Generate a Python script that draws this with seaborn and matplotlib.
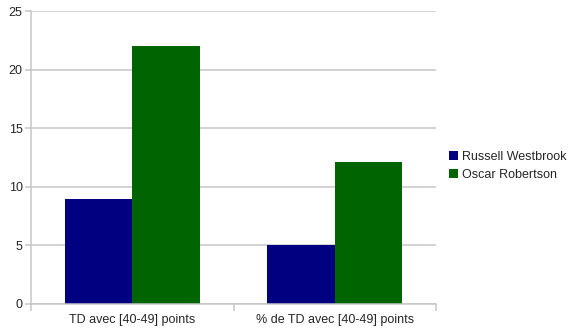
import matplotlib
matplotlib.use("Agg")
import matplotlib.pyplot as plt
import seaborn as sns
import pandas as pd
from matplotlib.patches import Patch

categories = ["TD avec [40-49] points", "% de TD avec [40-49] points"]
series = ["Russell Westbrook", "Oscar Robertson"]
westbrook = [9, 5]
robertson = [22, 12.14]
colors = ["#000080", "#006400"]

rows = []
for c, w, r in zip(categories, westbrook, robertson):
    rows.append({"cat": c, "player": series[0], "val": w})
    rows.append({"cat": c, "player": series[1], "val": r})
df = pd.DataFrame(rows)

sns.set_style("white")
plt.rcParams["font.family"] = ["Liberation Sans", "DejaVu Sans"]

fig = plt.figure(figsize=(5.74, 3.36), dpi=100)
ax = fig.add_axes([31/574, (336-304)/336, (436-31)/574, (304-11)/336])
sns.barplot(data=df, x="cat", y="val", hue="player", palette=colors,
            width=0.667, ax=ax, legend=False, saturation=1,
            edgecolor="none", linewidth=0)

gc = "#c6c6c6"
ax.set_ylim(0, 25)
ax.set_xlim(-0.5, 1.5)
ax.set_yticks([0, 5, 10, 15, 20, 25])
ax.yaxis.grid(True, color=gc, linewidth=1.1)
ax.set_axisbelow(True)
ax.set_xlabel("")
ax.set_ylabel("")
for s in ["top", "right"]:
    ax.spines[s].set_visible(False)
ax.spines["left"].set_color(gc)
ax.spines["bottom"].set_color(gc)
ax.spines["left"].set_linewidth(1.1)
ax.spines["bottom"].set_linewidth(1.1)
ax.tick_params(axis="y", length=4, width=1.1, color=gc, labelsize=9, pad=2, left=True)
ax.set_xticks([0, 1])
ax.set_xticklabels(categories)
ax.tick_params(axis="x", length=0, labelsize=9, pad=7)
ax.set_xticks([-0.5, 0.5, 1.5], minor=True)
ax.tick_params(axis="x", which="minor", length=5, width=1.1, color=gc, bottom=True)

handles = [Patch(facecolor=c, edgecolor="none") for c in colors]
fig.legend(handles, series, loc="center left", bbox_to_anchor=(449/574, (336-166)/336),
           frameon=False, fontsize=9, handlelength=0.75, handleheight=0.75,
           handletextpad=0.3, labelspacing=0.45, borderaxespad=0, borderpad=0)

fig.savefig("out.png", dpi=100)
